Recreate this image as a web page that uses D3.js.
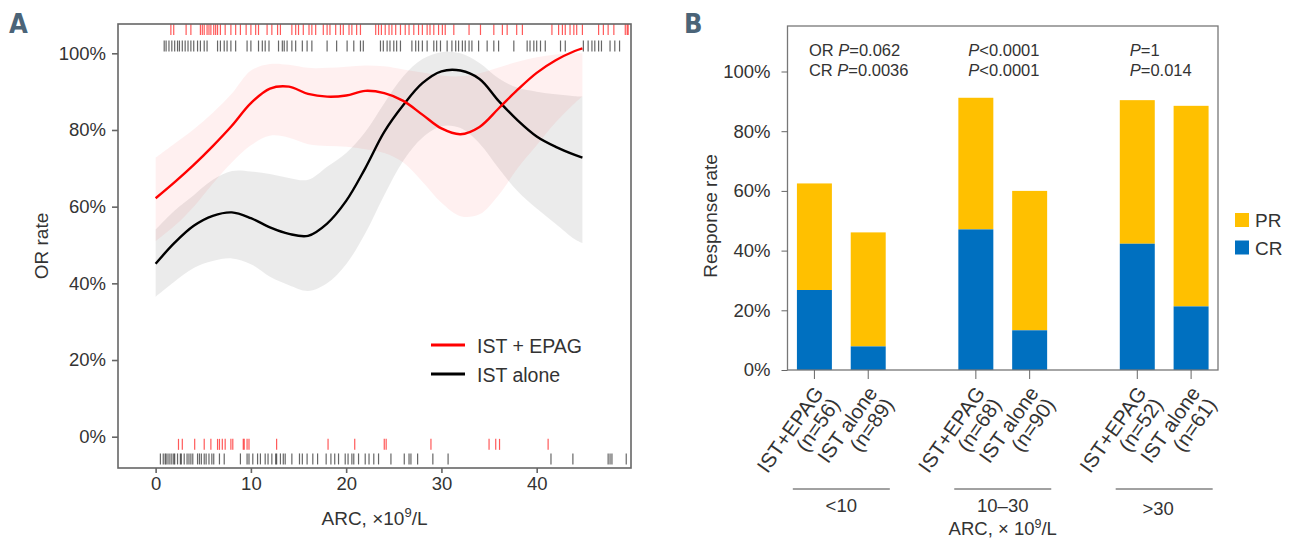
<!DOCTYPE html>
<html lang="en">
<head>
    <meta charset="UTF-8">
    <title>ARC response</title>
    <script src="https://d3js.org/d3.v7.min.js"></script>
    <style>
        body { margin: 0; background: #fff; }
        text { font-family: "Liberation Sans", Arial, sans-serif; fill: #333; }
        .panel { font-family: "Liberation Sans Narrow", "DejaVu Sans Condensed", sans-serif; font-weight: bold; fill: #4b6478; }
    </style>
</head>
<body>
    <div id="output"></div>
    <script>
        // ---- panel A: smoothed OR rate vs ARC ----
        var arcGrid  = [0, 2, 4, 6, 8, 10, 12, 14, 16, 18, 20, 22, 24, 26, 28, 30, 32, 34, 36, 38, 40, 42, 44, 44.8];
        var epagLine = [62.2, 66.4, 70.9, 75.8, 81.1, 87.0, 90.8, 91.3, 89.4, 88.7, 89.0, 90.2, 89.6, 87.6, 84.0, 80.4, 78.9, 80.8, 85.6, 90.5, 94.9, 98.2, 100.6, 101.3];
        var epagHi   = [72.8, 76.5, 80.2, 84.5, 89.5, 95.5, 97.2, 97.0, 96.2, 96.2, 96.5, 96.8, 96.6, 95.8, 95.0, 94.2, 94.0, 94.8, 96.3, 97.8, 99.0, 99.7, 100, 100];
        var epagLo   = [51.0, 55.0, 60.0, 66.0, 71.5, 76.0, 78.5, 78.0, 76.3, 75.8, 75.6, 75.0, 74.0, 71.5, 66.5, 61.0, 57.5, 58.0, 63.0, 70.0, 76.0, 82.0, 87.0, 88.7];
        var istLine  = [45.1, 50.6, 55.0, 57.6, 58.5, 57.0, 54.6, 52.9, 52.4, 55.6, 61.5, 70.0, 79.5, 86.5, 92.2, 95.3, 95.5, 93.3, 87.6, 82.5, 78.3, 75.6, 73.5, 72.8];
        var istHi    = [54.0, 59.0, 63.0, 67.0, 69.3, 69.2, 68.5, 67.5, 67.0, 70.4, 74.0, 79.5, 87.0, 94.0, 98.5, 100.3, 100, 97.5, 93.5, 91.0, 90.0, 89.3, 88.8, 88.7];
        var istLo    = [36.5, 40.5, 44.0, 45.8, 46.5, 45.0, 41.7, 39.5, 38.0, 40.0, 45.0, 53.0, 63.0, 72.0, 78.0, 81.0, 80.5, 76.5, 70.0, 64.0, 59.5, 55.5, 51.5, 50.5];

        // rug ticks: responders on top, non-responders at the bottom
        var epagTopRug = [1.6, 1.9, 3.2, 3.7, 4.7, 4.9, 5.1, 5.4, 5.6, 5.8, 6.1, 6.3, 6.5, 6.8, 7.3, 7.9, 8.4, 8.9, 9.5, 10.0, 10.5, 10.8, 11.7, 12.2, 12.8, 13.1,
            14.3, 14.7, 15.0, 15.5, 16.1, 16.4, 16.8, 17.6, 18.0, 18.3, 18.9, 19.4, 19.7, 20.3, 20.6, 21.1, 21.5, 23.1, 23.4, 23.7, 24.1, 24.5, 24.8, 25.2,
            25.7, 26.2, 26.6, 27.1, 27.6, 28.0, 28.5, 28.8, 29.2, 29.7, 30.1, 30.4, 31.3, 32.9, 34.1, 35.5, 36.4, 36.9, 37.9, 38.5, 41.6, 42.3, 42.7, 43.0,
            43.5, 43.9, 44.2, 44.8, 46.5, 47.0, 47.5, 48.1, 49.3, 49.5, 49.6];
        var istTopRug = [0.9, 1.1, 1.4, 1.7, 2.0, 2.3, 2.5, 2.8, 3.1, 3.4, 3.7, 4.0, 4.4, 4.7, 5.1, 5.4, 6.5, 6.8, 7.2, 7.5, 7.9, 8.4, 9.6, 10.0, 10.8, 11.2,
            11.5, 11.9, 12.9, 13.3, 13.5, 13.8, 14.3, 14.7, 15.4, 15.9, 16.4, 18.0, 19.0, 20.1, 20.8, 21.5, 21.8, 23.6, 23.9, 24.3, 24.6, 25.0, 25.3, 25.7,
            26.9, 27.3, 27.6, 28.0, 28.5, 29.2, 29.5, 29.9, 30.6, 31.1, 31.5, 31.8, 32.2, 32.5, 32.9, 33.2, 33.9, 34.8, 35.5, 36.0, 37.6, 39.0, 39.3, 39.7,
            40.0, 40.4, 40.9, 42.5, 43.0, 44.9, 45.4, 45.8, 46.1, 46.5, 46.8, 47.7, 48.2, 48.7];
        var epagBottomRug = [2.4, 2.8, 4.1, 5.1, 5.8, 6.5, 6.7, 7.0, 7.3, 7.9, 8.1, 9.2, 9.3, 9.6, 9.8, 12.7, 18.1, 20.9, 24.0, 24.2, 28.9, 35.0, 35.7, 36.1, 41.2];
        var istBottomRug = [0.5, 0.8, 1.0, 1.1, 1.3, 1.5, 1.7, 1.9, 2.0, 2.3, 2.6, 2.7, 3.0, 3.3, 3.5, 3.7, 3.9, 4.4, 4.6, 4.8, 5.1, 5.3, 5.6, 5.9, 6.1,
            6.7, 7.2, 8.9, 9.6, 9.8, 10.2, 10.7, 11.0, 11.5, 11.8, 12.2, 12.6, 12.7, 13.1, 13.4, 13.6, 14.3, 15.1, 15.4, 15.9, 16.5, 17.0, 17.9, 18.4,
            18.8, 19.2, 19.9, 20.2, 20.6, 20.8, 21.3, 22.0, 22.4, 22.9, 23.4, 24.7, 26.1, 26.6, 26.8, 27.5, 29.1, 30.7, 41.5, 43.8, 47.5, 47.7, 47.9, 49.4];

        var arcTicks = [0, 10, 20, 30, 40];
        var rateTicks = [0, 0.2, 0.4, 0.6, 0.8, 1];

        // ---- panel B: response by ARC group ----
        var arcGroups = ["<10", "10\u201330", ">30"];
        var arms = ["IST+EPAG", "IST alone"];
        var nLabels = ["(n=56)", "(n=89)", "(n=68)", "(n=90)", "(n=52)", "(n=61)"];
        var orRate = [0.625, 0.461, 0.912, 0.600, 0.904, 0.885];
        var crRate = [0.268, 0.079, 0.471, 0.133, 0.423, 0.213];
        var orP = ["0.062", "<0.0001", "=1"];
        var crP = ["0.0036", "<0.0001", "=0.014"];

        var svg = d3.select("#output").append("svg")
            .attr("width", 1290)
            .attr("height", 540);

        drawPanelA();
        drawPanelB();

        function drawPanelA() {
            var left = 118, right = 631, top = 24, bottom = 468;
            var x = d3.scaleLinear().domain([-3.95, 49.9]).range([left, right]);
            var y = d3.scaleLinear().domain([0, 1]).range([436.7, 53.3]);
            var g = svg.append("g");

            g.append("text").attr("class", "panel").attr("x", 9).attr("y", 33)
                .style("font-size", "27px").text("A");

            function band(lo, hi) {
                return d3.area()
                    .curve(d3.curveCatmullRom)
                    .x(function(d, i) { return x(arcGrid[i]); })
                    .y0(function(d, i) { return y(lo[i] / 100); })
                    .y1(function(d, i) { return y(hi[i] / 100); })(arcGrid);
            }
            var line = d3.line()
                .curve(d3.curveCatmullRom)
                .x(function(d, i) { return x(arcGrid[i]); })
                .y(function(d) { return y(d / 100); });

            g.append("path").attr("d", band(istLo, istHi)).attr("fill", "#000").attr("fill-opacity", 0.08);
            g.append("path").attr("d", band(epagLo, epagHi)).attr("fill", "#ff0000").attr("fill-opacity", 0.06);
            g.append("path").attr("d", line(istLine)).attr("fill", "none").attr("stroke", "#000").attr("stroke-width", 2.4);
            g.append("path").attr("d", line(epagLine)).attr("fill", "none").attr("stroke", "#ff0000").attr("stroke-width", 2.4);

            function rug(vals, level, color, op) {
                g.append("g").selectAll("line")
                    .data(vals)
                    .enter().append("line")
                    .attr("x1", function(d) { return x(d); })
                    .attr("x2", function(d) { return x(d); })
                    .attr("y1", y(level) - 5.5)
                    .attr("y2", y(level) + 5.5)
                    .attr("stroke", color)
                    .attr("stroke-opacity", op)
                    .attr("stroke-width", 1.2);
            }
            rug(epagTopRug, 1.062, "#ff0000", 0.65);
            rug(istTopRug, 1.019, "#000", 0.6);
            rug(epagBottomRug, -0.02, "#ff0000", 0.65);
            rug(istBottomRug, -0.058, "#000", 0.6);

            g.append("rect").attr("x", left).attr("y", top)
                .attr("width", right - left).attr("height", bottom - top)
                .attr("fill", "none").attr("stroke", "#666").attr("stroke-width", 1.6);

            var yAxis = g.append("g").attr("transform", "translate(" + left + ",0)")
                .call(d3.axisLeft(y).tickValues(rateTicks).tickFormat(d3.format(".0%")).tickSize(6).tickPadding(6));
            var xAxis = g.append("g").attr("transform", "translate(0," + bottom + ")")
                .call(d3.axisBottom(x).tickValues(arcTicks).tickSize(5).tickPadding(4));
            [xAxis, yAxis].forEach(function(a) {
                a.select(".domain").remove();
                a.selectAll(".tick line").attr("stroke", "#666").attr("stroke-width", 1.6);
                a.selectAll(".tick text").style("font-size", "18.5px").style("font-family", null).attr("fill", "#333");
            });

            var xt = g.append("text").attr("x", (left + right) / 2).attr("y", 525)
                .attr("text-anchor", "middle").style("font-size", "19px");
            xt.append("tspan").text("ARC, \u00d710");
            xt.append("tspan").attr("dy", -8).style("font-size", "13px").text("9");
            xt.append("tspan").attr("dy", 8).text("/L");

            g.append("text").attr("transform", "translate(48," + (top + bottom) / 2 + ") rotate(-90)")
                .attr("text-anchor", "middle").style("font-size", "19px").text("OR rate");

            var legend = [["IST + EPAG", "#ff0000"], ["IST alone", "#000"]];
            legend.forEach(function(d, i) {
                var ly = 345 + i * 29;
                g.append("line").attr("x1", 431).attr("x2", 465).attr("y1", ly).attr("y2", ly)
                    .attr("stroke", d[1]).attr("stroke-width", 3);
                g.append("text").attr("x", 477).attr("y", ly + 7.5)
                    .style("font-size", "19.5px").text(d[0]);
            });
        }

        function drawPanelB() {
            var left = 787.5, right = 1218, top = 26, bottom = 370;
            var slots = d3.range(arcGroups.length * 3 - 1);
            var x = d3.scaleBand().domain(slots).range([left, right]).paddingInner(0.35).paddingOuter(0.175);
            var y = d3.scaleLinear().domain([0, 1]).range([bottom, 71.5]);
            var g = svg.append("g");

            g.append("text").attr("class", "panel").attr("x", 684).attr("y", 33)
                .style("font-size", "27px").text("B");

            var bars = orRate.map(function(v, i) {
                var grp = Math.floor(i / 2), arm = i % 2;
                return { slot: grp * 3 + arm, arm: arm, grp: grp, or: v, cr: crRate[i], n: nLabels[i] };
            });

            g.selectAll(".pr").data(bars).enter().append("rect")
                .attr("x", function(d) { return x(d.slot); })
                .attr("width", x.bandwidth())
                .attr("y", function(d) { return y(d.or); })
                .attr("height", function(d) { return y(d.cr) - y(d.or); })
                .attr("fill", "#ffc000");
            g.selectAll(".cr").data(bars).enter().append("rect")
                .attr("x", function(d) { return x(d.slot); })
                .attr("width", x.bandwidth())
                .attr("y", function(d) { return y(d.cr); })
                .attr("height", function(d) { return y(0) - y(d.cr); })
                .attr("fill", "#0070c0");

            g.append("rect").attr("x", left).attr("y", top)
                .attr("width", right - left).attr("height", bottom - top)
                .attr("fill", "none").attr("stroke", "#777").attr("stroke-width", 1.3);

            var yAxis = g.append("g").attr("transform", "translate(" + left + ",0)")
                .call(d3.axisLeft(y).tickValues(rateTicks).tickFormat(d3.format(".0%")).tickSize(6).tickPadding(11));
            yAxis.select(".domain").remove();
            yAxis.selectAll(".tick line").attr("stroke", "#666");
            yAxis.selectAll(".tick text").style("font-size", "18.5px").style("font-family", null).attr("fill", "#333");

            // x ticks and rotated two-line labels
            bars.forEach(function(d) {
                var cx = x(d.slot) + x.bandwidth() / 2;
                g.append("line").attr("x1", cx).attr("x2", cx).attr("y1", bottom).attr("y2", bottom + 9)
                    .attr("stroke", "#666");
                var t = g.append("text")
                    .attr("transform", "translate(" + cx + "," + (bottom + 11) + ") rotate(-55)")
                    .attr("text-anchor", "end")
                    .style("font-size", "20.5px");
                t.append("tspan").attr("x", -4).attr("y", 15).text(arms[d.arm]);
                t.append("tspan").attr("x", -4).attr("y", 35).text(d.n);
            });

            arcGroups.forEach(function(name, gi) {
                var c = (x(gi * 3) + x(gi * 3 + 1) + x.bandwidth()) / 2;
                g.append("line").attr("x1", c - 48.5).attr("x2", c + 48.5).attr("y1", 489).attr("y2", 489)
                    .attr("stroke", "#444").attr("stroke-width", 1);
                g.append("text").attr("x", c - (gi === 2 ? 6 : 0)).attr("y", gi === 2 ? 515 : 512)
                    .attr("text-anchor", "middle").style("font-size", "18.5px").text(name);

                var ax = x(gi * 3) + (gi === 0 ? 12 : 10);
                var t1 = g.append("text").attr("x", ax).attr("y", 56).style("font-size", "16.5px");
                if (gi === 0) t1.append("tspan").text("OR ");
                t1.append("tspan").style("font-style", "italic").text("P");
                t1.append("tspan").text(gi === 0 ? "=" + orP[gi] : orP[gi]);
                var t2 = g.append("text").attr("x", ax).attr("y", 76).style("font-size", "16.5px");
                if (gi === 0) t2.append("tspan").text("CR ");
                t2.append("tspan").style("font-style", "italic").text("P");
                t2.append("tspan").text(gi === 0 ? "=" + crP[gi] : crP[gi]);
            });

            var mid = (x(3) + x(4) + x.bandwidth()) / 2;
            var xt = g.append("text").attr("x", mid).attr("y", 535)
                .attr("text-anchor", "middle").style("font-size", "18.5px");
            xt.append("tspan").text("ARC, \u00d7 10");
            xt.append("tspan").attr("dy", -7).style("font-size", "12.5px").text("9");
            xt.append("tspan").attr("dy", 7).text("/L");

            g.append("text").attr("transform", "translate(717,216) rotate(-90)")
                .attr("text-anchor", "middle").style("font-size", "19px").text("Response rate");

            var keys = [["PR", "#ffc000"], ["CR", "#0070c0"]];
            keys.forEach(function(k, i) {
                var ky = 213 + i * 27.5;
                g.append("rect").attr("x", 1235).attr("y", ky).attr("width", 14).attr("height", 14).attr("fill", k[1]);
                g.append("text").attr("x", 1255).attr("y", ky + 14).style("font-size", "19px").text(k[0]);
            });
        }
    </script>
</body>
</html>
